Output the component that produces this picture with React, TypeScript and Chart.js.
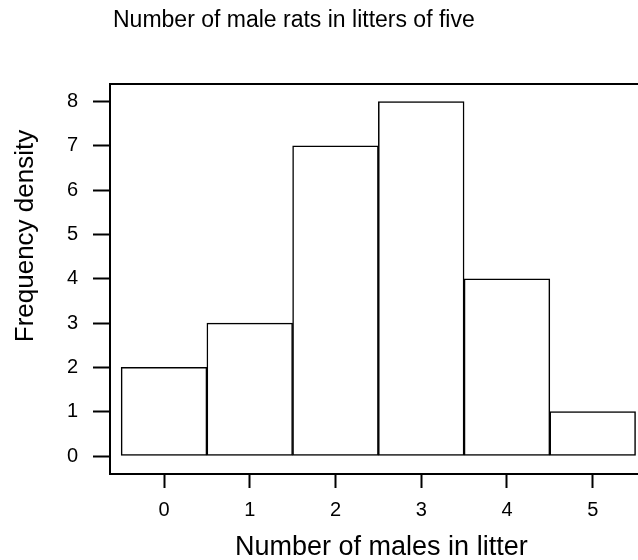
import React, { useEffect, useRef } from "react";
import { Chart, registerables } from "chart.js";

Chart.register(...registerables);

const chartTitle = "Number of male rats in litters of five";
const xAxisTitle = "Number of males in litter";
const yAxisTitle = "Frequency density";
const males = [0, 1, 2, 3, 4, 5];
const density = [2, 3, 7, 8, 4, 1];
const xTicks = [0, 1, 2, 3, 4, 5];
const yTicks = [0, 1, 2, 3, 4, 5, 6, 7, 8];

const FONT = '"Liberation Sans", Arial, Helvetica, sans-serif';

export default function App() {
  const ref = useRef<HTMLCanvasElement>(null);

  useEffect(() => {
    const canvas = ref.current;
    if (!canvas) return;

    const framePlugin = {
      id: "frameAndTitles",
      afterDraw(chart: any) {
        const { ctx, chartArea: a } = chart;
        ctx.save();
        ctx.strokeStyle = "#000";
        ctx.lineWidth = 2;
        ctx.strokeRect(a.left, a.top, a.right - a.left, a.bottom - a.top);
        ctx.fillStyle = "#000";
        ctx.font = `23px ${FONT}`;
        ctx.textAlign = "left";
        ctx.textBaseline = "alphabetic";
        ctx.fillText(chartTitle, a.left + 3, 27);
        ctx.font = `27px ${FONT}`;
        ctx.textAlign = "center";
        ctx.fillText(xAxisTitle, (a.left + a.right) / 2 + 3, 555);
        ctx.font = `26px ${FONT}`;
        ctx.translate(33, 236);
        ctx.rotate(-Math.PI / 2);
        ctx.fillText(yAxisTitle, 0, 0);
        ctx.restore();
      },
    };

    const chart = new Chart(canvas, {
      type: "bar",
      data: {
        datasets: [
          {
            data: males.map((m, i) => ({ x: m, y: density[i] })),
            backgroundColor: "#ffffff",
            borderColor: "#000000",
            borderWidth: 1.5,
            borderSkipped: false,
            barPercentage: 1,
            categoryPercentage: 1,
          },
        ],
      },
      options: {
        responsive: false,
        animation: false,
        layout: { padding: { top: 84, right: 33.3, left: 0, bottom: 0 } },
        plugins: {
          legend: { display: false },
          tooltip: { enabled: false },
          title: { display: false },
        },
        scales: {
          x: {
            type: "linear",
            min: -0.63,
            max: 5.63,
            offset: false,
            afterFit(scale: any) {
              scale.height = 86;
            },
            afterBuildTicks(scale: any) {
              scale.ticks = xTicks.map((v) => ({ value: v }));
            },
            border: { display: false },
            grid: {
              offset: false,
              drawOnChartArea: false,
              drawTicks: true,
              tickLength: 14,
              tickWidth: 2,
              tickColor: "#000",
            },
            ticks: {
              padding: 10,
              color: "#000",
              font: { family: FONT, size: 20 },
              maxRotation: 0,
              autoSkip: false,
            },
          },
          y: {
            type: "linear",
            min: -0.406,
            max: 8.395,
            afterFit(scale: any) {
              scale.width = 110;
            },
            afterBuildTicks(scale: any) {
              scale.ticks = yTicks.map((v) => ({ value: v }));
            },
            border: { display: false },
            grid: {
              drawOnChartArea: false,
              drawTicks: true,
              tickLength: 17,
              tickWidth: 2,
              tickColor: "#000",
            },
            ticks: {
              padding: 15,
              color: "#000",
              font: { family: FONT, size: 20 },
              autoSkip: false,
            },
          },
        },
      },
      plugins: [framePlugin],
    });

    return () => chart.destroy();
  }, []);

  return (
    <div
      style={{
        position: "fixed",
        left: 0,
        top: 0,
        width: 638,
        height: 560,
        overflow: "hidden",
        background: "#fff",
      }}
    >
      <canvas ref={ref} width={680} height={560} style={{ display: "block" }} />
    </div>
  );
}
